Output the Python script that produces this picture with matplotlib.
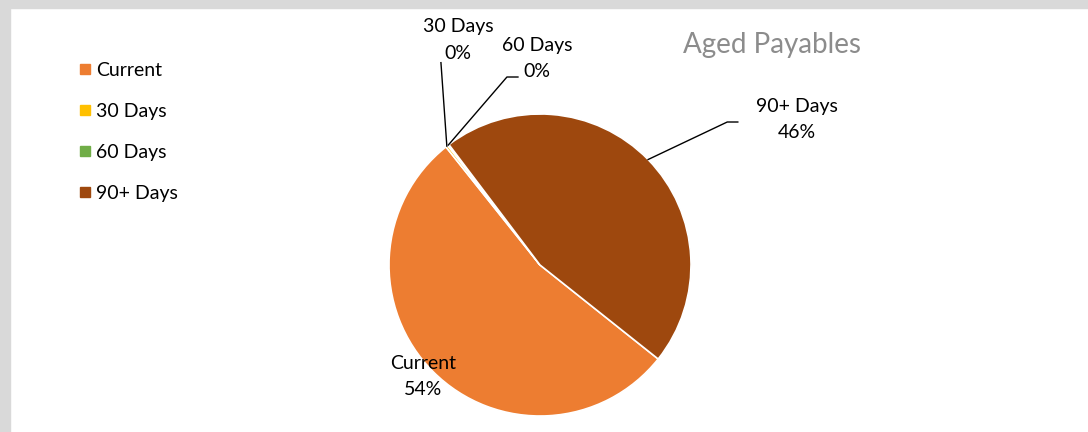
import numpy as np
import matplotlib
matplotlib.use("Agg")
import matplotlib.pyplot as plt
from matplotlib.patches import Rectangle
from matplotlib.lines import Line2D

plt.rcParams['font.family'] = ['Lato', 'DejaVu Sans']

categories = ["Current", "30 Days", "60 Days", "90+ Days"]
values = [53.6, 0.25, 0.15, 46.0]
colors = ["#ED7D31", "#FFC000", "#70AD47", "#9E480E"]
pct_labels = ["54%", "0%", "0%", "46%"]
title = "Aged Payables"

W, H = 1088, 432
fig = plt.figure(figsize=(W / 100, H / 100), dpi=100)
fig.patch.set_facecolor("white")
# frame bands
fig.patches.append(Rectangle((0, 0), 10 / W, 1, transform=fig.transFigure, color="#D9D9D9", zorder=0))
fig.patches.append(Rectangle((0, 1 - 8 / H), 1, 8 / H, transform=fig.transFigure, color="#D9D9D9", zorder=0))

cx, cy, r = 540, 265, 151
ax = fig.add_axes([(cx - r) / W, (H - cy - r) / H, 2 * r / W, 2 * r / H])
ax.set_xlim(-1, 1)
ax.set_ylim(-1, 1)
ax.set_aspect("equal")
ax.axis("off")

wedges, _ = ax.pie(values, colors=colors, startangle=-38.5, counterclock=False,
                   radius=1.0, wedgeprops=dict(edgecolor="white", linewidth=1.2),
                   frame=False)
ax.set_xlim(-1, 1)
ax.set_ylim(-1, 1)

def mid_point(w, rad=1.0):
    a = np.deg2rad((w.theta1 + w.theta2) / 2)
    return rad * np.cos(a), rad * np.sin(a)

fs = 14
# label positions (data units, radius = 1)
label_pos = {
    "Current": (-0.775, -0.74),
    "30 Days": (-0.543, 1.49),
    "60 Days": (-0.02, 1.37),
    "90+ Days": (1.70, 0.965),
}
# leader line elbows
leaders = {
    "30 Days": [(-0.656, 1.34)],
    "60 Days": [(-0.219, 1.245), (-0.146, 1.245)],
    "90+ Days": [(1.24, 0.947), (1.31, 0.947)],
}
for w, cat, pl in zip(wedges, categories, pct_labels):
    x, y = label_pos[cat]
    ax.text(x, y, f"{cat}\n{pl}", ha="center", va="center", fontsize=fs,
            color="#000000", linespacing=1.65, clip_on=False)
    if cat in leaders:
        sx, sy = mid_point(w, 1.0)
        pts = [(sx, sy)] + leaders[cat]
        xs, ys = zip(*pts)
        ax.add_line(Line2D(xs, ys, color="black", linewidth=1.0, clip_on=False))

fig.text(772 / W, 1 - 45 / H, title, ha="center", va="center", fontsize=20,
         color="#8C8C8C")

handles = [Line2D([], [], marker="s", linestyle="none", markersize=6.5,
                  markerfacecolor=c, markeredgecolor=c) for c in colors]
fig.legend(handles, categories, loc="upper left", bbox_to_anchor=(72 / W, 1 - 54 / H),
           frameon=False, fontsize=fs, labelspacing=1.24, handlelength=0.5,
           handletextpad=0.35, borderaxespad=0)

fig.savefig("out.png", dpi=100, facecolor="white")
